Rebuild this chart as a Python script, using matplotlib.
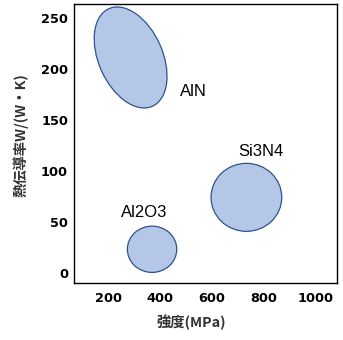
import matplotlib
matplotlib.use("Agg")
import matplotlib.pyplot as plt
from matplotlib.patches import Ellipse
from matplotlib.transforms import ScaledTranslation

plt.rcParams['font.family'] = ['Noto Sans CJK JP', 'DejaVu Sans']

# Material regions: centre strength (MPa) and thermal conductivity W/(m·K)
materials = ["AlN", "Al2O3", "Si3N4"]
strength = [286, 369, 734]
conductivity = [211.6, 23.6, 74.5]

# Label anchor positions (data units)
label_x = [528, 338, 791]
label_y = [178, 60, 119]

x_ticks = [200, 400, 600, 800, 1000]
y_ticks = [0, 50, 100, 150, 200, 250]

# Ellipse shapes in inches: (width, height, angle)
shapes = [(1.068, 0.64, -66), (0.494, 0.463, 0), (0.707, 0.68, 0)]

fig = plt.figure(figsize=(3.43, 3.40), dpi=100)
ax = fig.add_axes([0.2143, 0.169, 0.767, 0.8207])
ax.set_xlim(65, 1083)
ax.set_ylim(-9, 264.5)
ax.set_xticks(x_ticks)
ax.set_yticks(y_ticks)
ax.tick_params(length=0, labelsize=9.3)
ax.tick_params(axis='x', pad=7)
ax.tick_params(axis='y', pad=4)
for lab in ax.get_xticklabels() + ax.get_yticklabels():
    lab.set_fontweight('bold')
    lab.set_family('DejaVu Sans')
for sp in ax.spines.values():
    sp.set_linewidth(1.0)
    sp.set_color('black')

for name, sx, sy, (w, h, ang), lx, ly in zip(materials, strength, conductivity,
                                              shapes, label_x, label_y):
    tr = fig.dpi_scale_trans + ScaledTranslation(sx, sy, ax.transData)
    e = Ellipse((0, 0), w, h, angle=ang, transform=tr,
                facecolor='#B4C7E7', edgecolor='#2F528F', linewidth=0.9)
    ax.add_patch(e)
    ax.text(lx, ly, name, ha='center', va='center', fontsize=12,
            family='Liberation Sans', color='black')

ax.set_xlabel('強度(MPa)', fontsize=10.3, fontweight='bold', color='#333333')
ax.set_ylabel('熱伝導率W/(W・K)', fontsize=10.3, fontweight='bold',
              color='#333333')
ax.xaxis.set_label_coords(0.449, -0.115)
ax.yaxis.set_label_coords(-0.171, 0.529)

fig.savefig('out.png', dpi=100)
